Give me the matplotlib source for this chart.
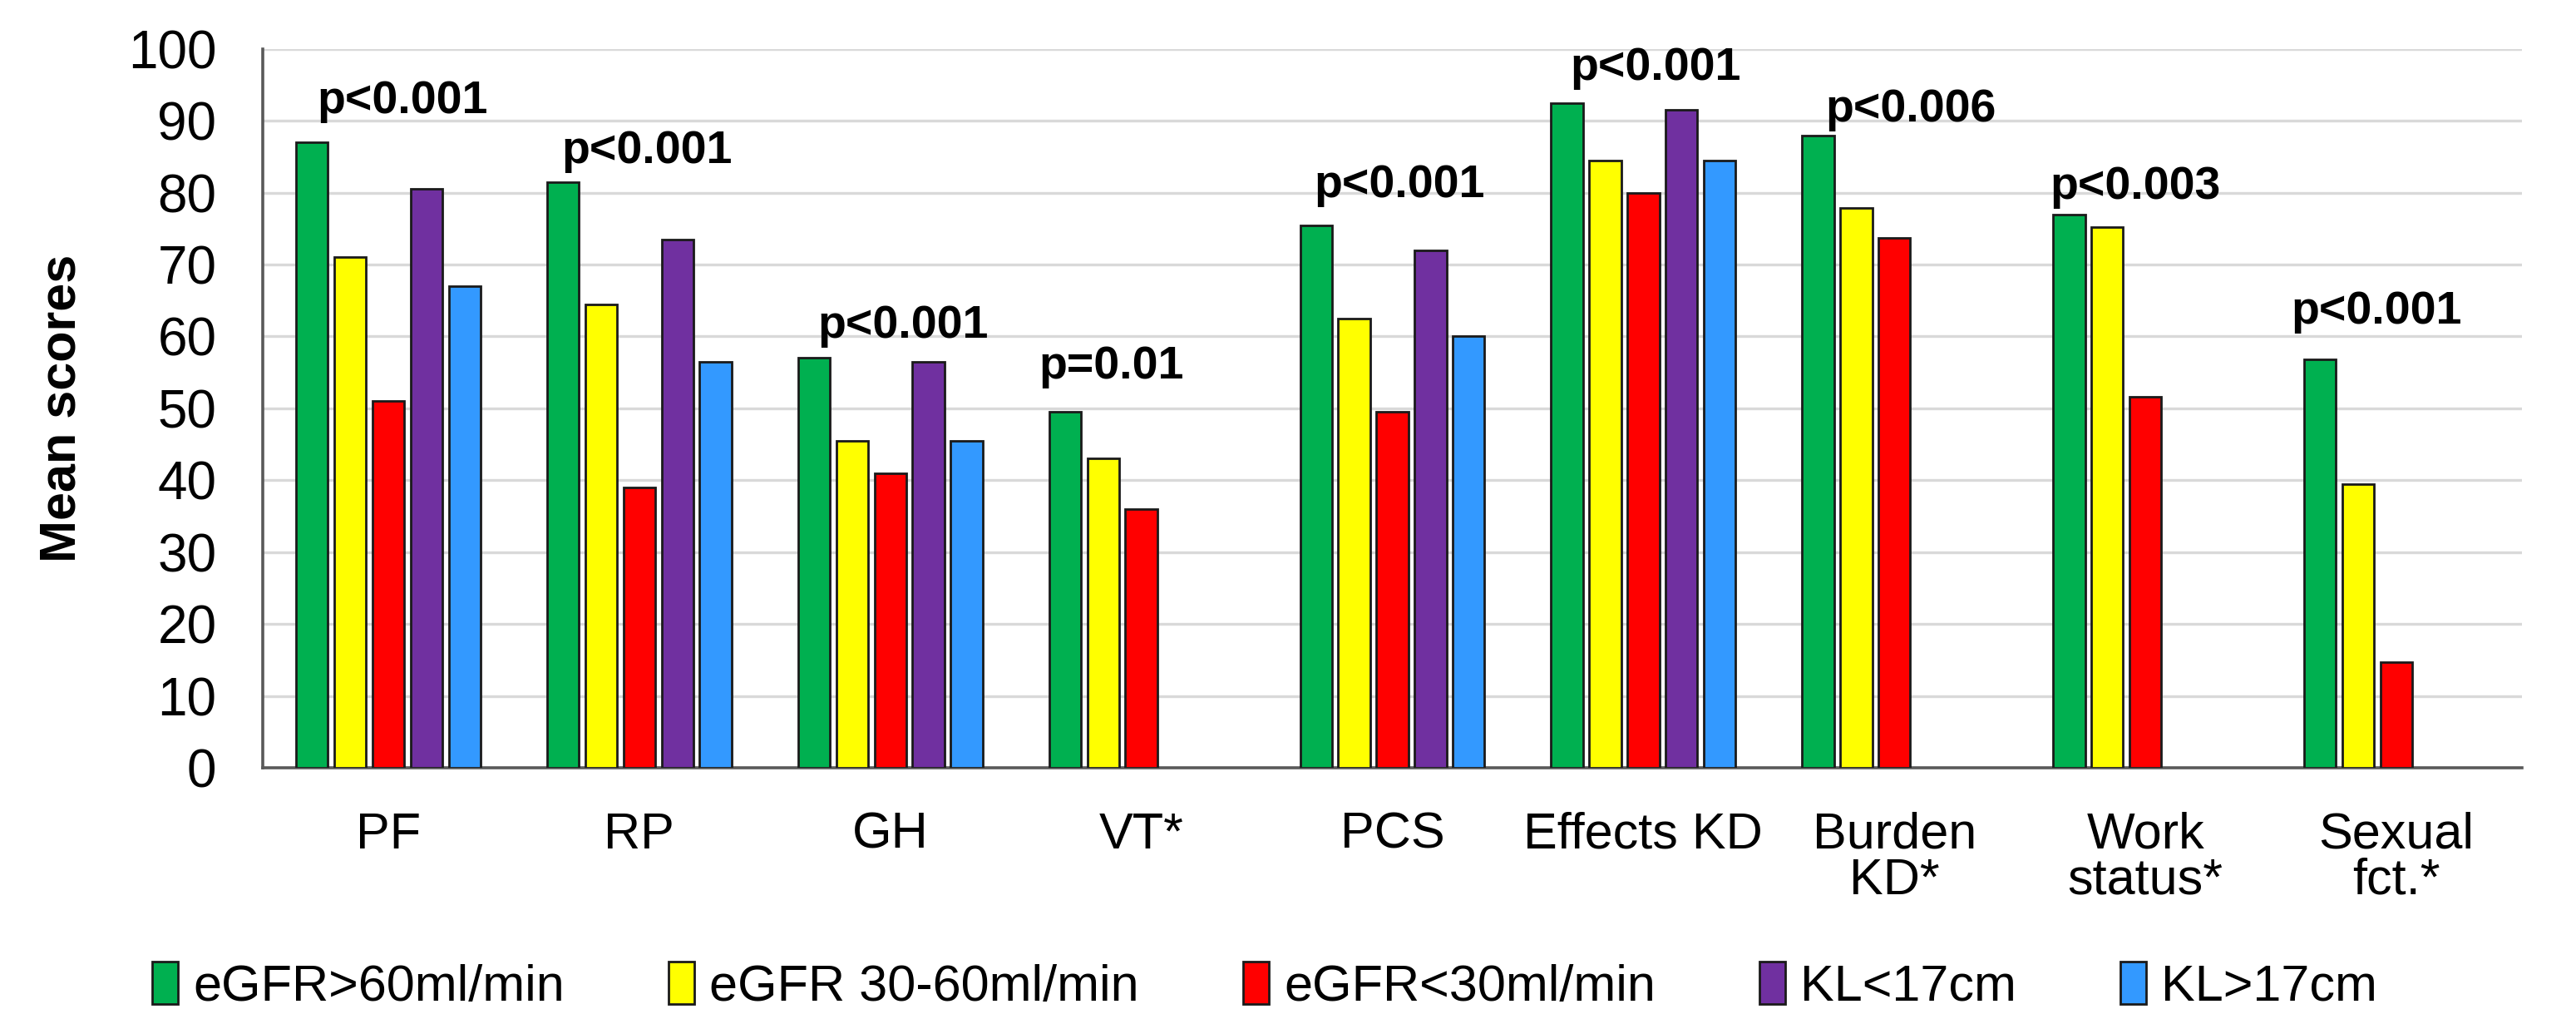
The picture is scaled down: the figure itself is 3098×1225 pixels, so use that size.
import numpy as np
import matplotlib.pyplot as plt

plt.rcParams['font.family'] = ['Liberation Sans', 'DejaVu Sans']

categories = ['PF', 'RP', 'GH', 'VT*', 'PCS', 'Effects KD', 'Burden\nKD*', 'Work\nstatus*', 'Sexual\nfct.*']
series_names = ['eGFR>60ml/min', 'eGFR 30-60ml/min', 'eGFR<30ml/min', 'KL<17cm', 'KL>17cm']
colors = ['#00B050', '#FFFF00', '#FF0000', '#7030A0', '#3399FF']

egfr_hi = [87, 81.5, 57, 49.5, 75.5, 92.5, 88, 77, 56.8]
egfr_mid = [71, 64.5, 45.5, 43, 62.5, 84.5, 77.9, 75.2, 39.5]
egfr_lo = [51, 39, 41, 36, 49.5, 80, 73.7, 51.6, 14.7]
kl_small = [80.5, 73.5, 56.5, None, 72, 91.5, None, None, None]
kl_large = [67, 56.5, 45.5, None, 60, 84.5, None, None, None]
series = [egfr_hi, egfr_mid, egfr_lo, kl_small, kl_large]

p_labels = ['p<0.001', 'p<0.001', 'p<0.001', 'p=0.01', 'p<0.001', 'p<0.001', 'p<0.006', 'p<0.003', 'p<0.001']
p_dx = [0.055, 0.03, 0.05, -0.12, 0.03, 0.05, 0.065, -0.04, -0.08]
p_y = [92.7, 85.8, 61.5, 55.8, 81, 97.3, 91.5, 80.8, 63.4]

fig = plt.figure(figsize=(15.49, 6.125), dpi=200)
ax = fig.add_axes([0.102, 0.2465, 0.877, 0.7055])

x = np.arange(len(categories))
pitch = 0.152
width = 0.127
for i, (vals, name, c) in enumerate(zip(series, series_names, colors)):
    xs = [xx + (i - 2) * pitch for xx, v in zip(x, vals) if v is not None]
    hs = [v for v in vals if v is not None]
    ax.bar(xs, hs, width=width, color=c, edgecolor='#1a1a1a', linewidth=1.0,
           label=name, zorder=3)

for xx, lab, dx, yy in zip(x, p_labels, p_dx, p_y):
    ax.text(xx + dx, yy, lab, ha='center', va='center', fontsize=20,
            fontweight='bold', zorder=4)

ax.set_xlim(-0.5, len(categories) - 0.5)
ax.set_ylim(0, 100)
ax.set_yticks(np.arange(0, 101, 10))
ax.set_xticks(x)
ax.set_xticklabels(categories, fontsize=22, linespacing=0.95)
ax.tick_params(axis='y', labelsize=23, length=0, pad=20)
ax.tick_params(axis='x', length=0, pad=19)
ax.grid(axis='y', color='#d9d9d9', linewidth=1.2, zorder=0)
for s in ['top', 'right']:
    ax.spines[s].set_visible(False)
ax.spines['left'].set_color('#595959')
ax.spines['bottom'].set_color('#595959')
ax.spines['left'].set_linewidth(1.3)
ax.spines['bottom'].set_linewidth(1.3)

ax.set_ylabel('Mean scores', fontsize=22, fontweight='bold', labelpad=18)

fig.legend(loc='center', bbox_to_anchor=(0.491, 0.032), ncol=5, frameon=False,
           fontsize=22, handlelength=0.5, handleheight=0.9, handletextpad=0.3,
           columnspacing=2.05)

fig.savefig('out.png', dpi=200)
